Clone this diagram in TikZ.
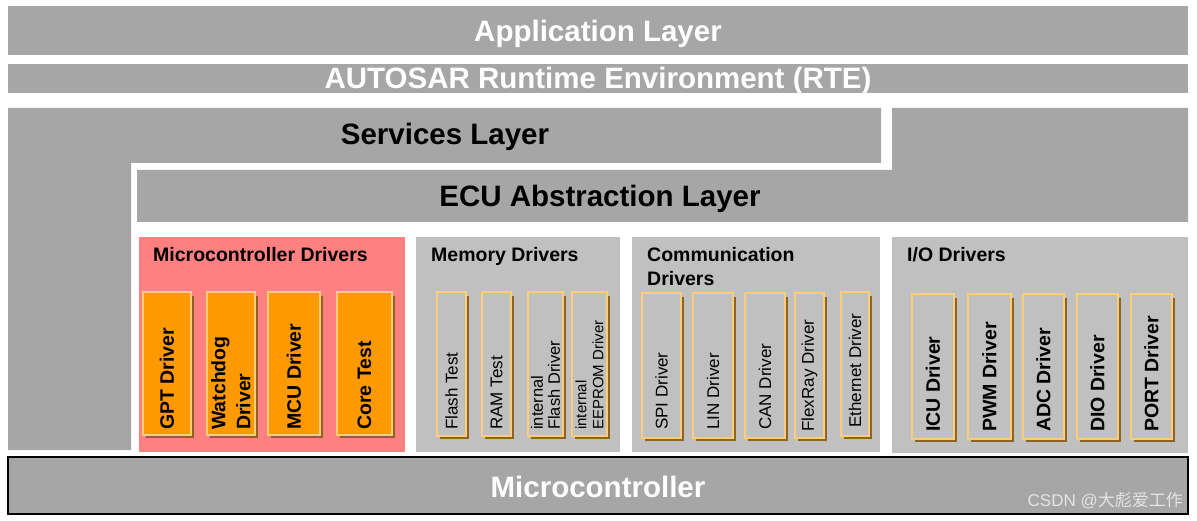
\documentclass[tikz,border=0pt]{standalone}
\usepackage{fontspec}
\setmainfont{Liberation Sans}
\newfontfamily\cjkfont{Noto Sans CJK SC}
\definecolor{layerc}{HTML}{A6A6A6}
\definecolor{grpc}{HTML}{C0C0C0}
\definecolor{salmonc}{HTML}{FF8080}
\definecolor{orangec}{HTML}{FF9900}
\definecolor{lightc}{HTML}{FFCC77}
\definecolor{shadowc}{HTML}{8C6428}
\definecolor{wmc}{HTML}{E4E4E4}
\newcommand\drvbox[6]{%
  \node[#6, anchor=north west, minimum width={#4-#2}, minimum height={#5-#3}] (#1) at (#2,#3) {};
  \draw[shadowc, line width=2pt] ([xshift=1.6pt,yshift=-4pt]#1.north east) -- ([xshift=1.6pt,yshift=-1.6pt]#1.south east) -- ([xshift=3pt,yshift=-1.6pt]#1.south west);
}
\begin{document}
\begin{tikzpicture}[x=1pt,y=-1pt,
  big/.style={font=\fontsize{29.5}{32}\selectfont\bfseries, inner sep=0},
  grptitle/.style={font=\fontsize{19.5}{24}\selectfont\bfseries, inner sep=0, anchor=north west, align=left},
  box/.style={draw=lightc, line width=1.2pt, inner sep=0, outer sep=0},
  obox/.style={box, fill=orangec},
  vtxt/.style={rotate=90, anchor=west, inner sep=0, align=left},
  boldv/.style={vtxt, font=\fontsize{19.5}{25}\selectfont\bfseries},
  regv/.style={vtxt, font=\fontsize{17}{17.5}\selectfont}]
\useasboundingbox (0,0) rectangle (1197,521);
\fill[white] (0,0) rectangle (1197,521);
% layers
\fill[layerc] (8,6) rectangle (1188,55);
\node[big, text=white] (app) at (598,33.5) {Application Layer};
\fill[layerc] (8,64) rectangle (1188,93);
\node[big, text=white] (rte) at (598,80.5) {AUTOSAR Runtime Environment (RTE)};
\fill[layerc] (8,108) -- (881,108) -- (881,163) -- (131,163) -- (131,450) -- (8,450) -- cycle;
\node[big] (svc) at (445,136.5) {Services Layer};
\fill[layerc] (892,108) -- (1188,108) -- (1188,222) -- (137,222) -- (137,170) -- (892,170) -- cycle;
\node[big] (ecu) at (600,198.5) {ECU Abstraction Layer};
% driver groups
\fill[salmonc] (139,237) rectangle (405,452);
\fill[grpc] (416,237) rectangle (620,452);
\fill[grpc] (632,237) rectangle (880,452);
\fill[grpc] (892,237) rectangle (1188,453);
\node[grptitle] (mcdt) at (153,247) {Microcontroller Drivers};
\node[grptitle] (memt) at (431,247) {Memory Drivers};
\node[grptitle] (comt) at (647,247) {Communication\\Drivers};
\node[grptitle] (iot) at (907,247) {I/O Drivers};
% microcontroller drivers
\drvbox{gpt}{143}{292}{191}{435}{obox}
\drvbox{wdg}{207}{292}{255}{435}{obox}
\drvbox{mcu}{268}{292}{320}{435}{obox}
\drvbox{core}{337}{292}{392}{435}{obox}
\node[boldv] (gptt) at ([yshift=5pt]gpt.south) {GPT Driver};
\node[boldv] (wdgt) at ([yshift=5pt]wdg.south) {Watchdog\\Driver};
\node[boldv] (mcut) at ([yshift=5pt]mcu.south) {MCU Driver};
\node[boldv] (coret) at ([yshift=5pt]core.south) {Core Test};
% memory drivers
\drvbox{flt}{437}{292}{466}{436}{box}
\drvbox{ramt}{482}{292}{511}{436}{box}
\drvbox{ifl}{528}{292}{563}{436}{box}
\drvbox{iee}{572}{292}{607}{436}{box}
\node[regv] (fltt) at ([yshift=6pt]flt.south) {Flash Test};
\node[regv] (ramtt) at ([yshift=6pt]ramt.south) {RAM Test};
\node[regv, font=\fontsize{16.5}{17}\selectfont] (iflt) at ([yshift=6pt]ifl.south) {internal\\Flash Driver};
\node[regv, font=\fontsize{15}{17}\selectfont] (ieet) at ([yshift=6pt]iee.south) {internal\\EEPROM Driver};
% communication drivers
\drvbox{spi}{642}{293}{681}{438}{box}
\drvbox{lin}{693}{293}{733}{438}{box}
\drvbox{can}{745}{293}{785}{438}{box}
\drvbox{flex}{795}{293}{824}{438}{box}
\drvbox{eth}{841}{292}{869}{436}{box}
\node[regv] (spit) at ([yshift=8pt]spi.south) {SPI Driver};
\node[regv] (lint) at ([yshift=8pt]lin.south) {LIN Driver};
\node[regv] (cant) at ([yshift=8pt]can.south) {CAN Driver};
\node[regv] (flext) at ([yshift=6pt]flex.south) {FlexRay Driver};
\node[regv] (etht) at ([yshift=8pt]eth.south) {Ethernet Driver};
% I/O drivers
\drvbox{icu}{912}{294}{954}{439}{box}
\drvbox{pwm}{968}{294}{1011}{439}{box}
\drvbox{adc}{1023}{294}{1064}{439}{box}
\drvbox{dio}{1077}{294}{1118}{439}{box}
\drvbox{port}{1131}{294}{1172}{439}{box}
\node[boldv] (icut) at ([yshift=7pt]icu.south) {ICU Driver};
\node[boldv] (pwmt) at ([yshift=7pt]pwm.south) {PWM Driver};
\node[boldv] (adct) at ([yshift=7pt]adc.south) {ADC Driver};
\node[boldv] (diot) at ([yshift=7pt]dio.south) {DIO Driver};
\node[boldv] (portt) at ([yshift=7pt]port.south) {PORT Driver};
% microcontroller
\draw[line width=2.5pt, fill=layerc] (8,457) rectangle (1188,514);
\node[big, text=white] (mc) at (598,487) {Microcontroller};
\node[anchor=east, inner sep=0, text=wmc, font=\fontsize{17}{19}\selectfont] (wm) at (1183,501) {CSDN @{\cjkfont 大彪爱工作}};
\end{tikzpicture}
\end{document}
